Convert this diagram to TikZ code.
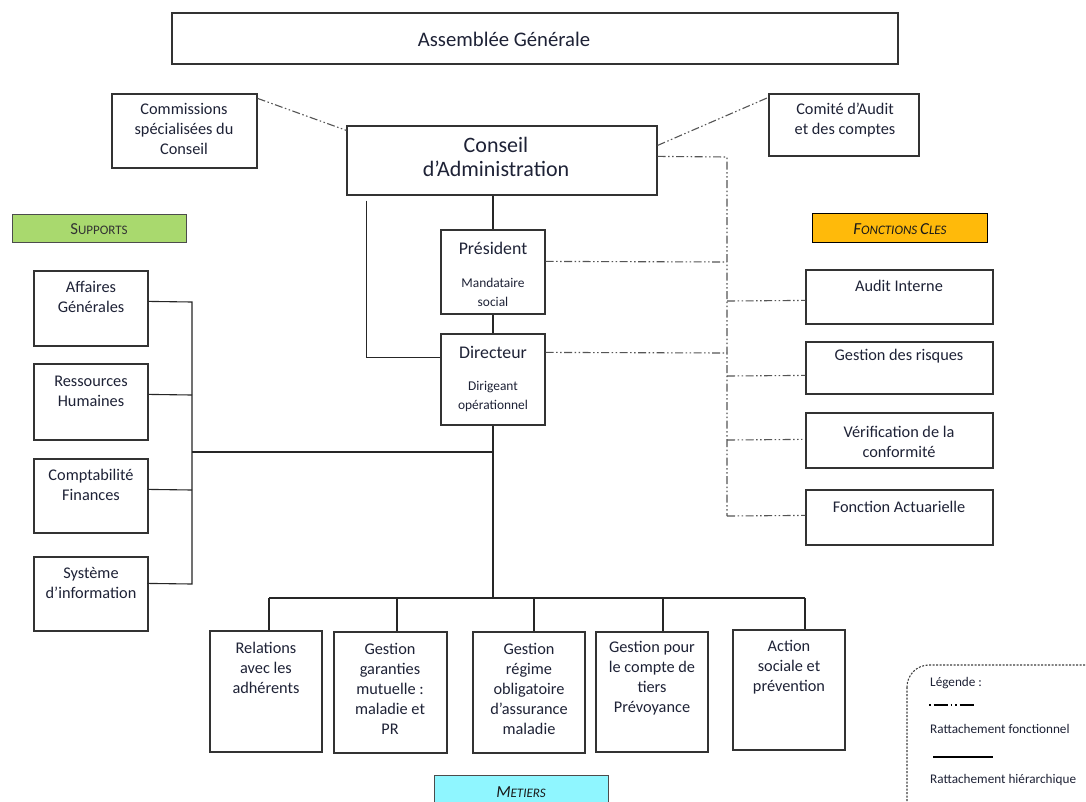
\documentclass[tikz,border=0pt]{standalone}
\usepackage{fontspec}
\setmainfont{Carlito}
\usetikzlibrary{fit,calc}
\definecolor{tcol}{HTML}{1E2236}
\definecolor{supg}{HTML}{A9D96E}
\definecolor{fcor}{HTML}{FFBA0A}
\definecolor{metc}{HTML}{8FF6FF}
\definecolor{bcol}{HTML}{333333}
\definecolor{fcol}{HTML}{555555}
\newcommand{\bigC}{\fontsize{16.8}{18}\selectfont}
\newcommand{\smC}{\fontsize{13}{18}\selectfont}
\begin{document}
\begin{tikzpicture}[x=1pt,y=-1pt,
  box/.style={draw=bcol, line width=1.2pt, inner sep=0pt},
  txt/.style={align=center, text=tcol, inner sep=0pt, font=\fontsize{16.3}{20}\selectfont},
  small/.style={align=center, text=tcol, inner sep=0pt, font=\fontsize{13.4}{19}\selectfont},
  leg/.style={anchor=west, text=tcol, inner sep=0pt, font=\fontsize{13.2}{15}\selectfont},
  hl/.style={draw=black!85, line width=1.1pt},
  fl/.style={draw=fcol, line width=1.1pt, dash pattern=on 8pt off 2.5pt on 1.5pt off 2.5pt on 1.5pt off 2.5pt}]
\useasboundingbox (0,0) rectangle (1086,801);
\clip (0,0) rectangle (1086,801);
\fill[white] (0,0) rectangle (1086,801);

% top
\node[box, fit={(172,13) (898,64)}] (ag) {};
\node[txt, font=\fontsize{20.7}{24}\selectfont] (agt) at (504,39) {Assemblée Générale};
\node[box, fit={(112,94) (257,168)}] (com) {};
\node[txt] (comt) at (184,129) {Commissions\\spécialisées du\\Conseil};
\node[box, fit={(769,94) (919,156)}] (cac) {};
\node[txt] (cact) at (845,120) {Comité d’Audit\\et des comptes};
\node[box, fit={(347,126) (657,195)}] (ca) {};
\node[txt, font=\fontsize{22}{24}\selectfont] (cat) at (496,157) {Conseil\\d’Administration};

% labels
\node[box, draw=black!70, line width=1pt, fill=supg, fit={(12,214) (186,242)}] (sup) {};
\node[text=black!80, inner sep=0pt] (supt) at (99,229) {{\bigC S}{\smC UPPORTS}};
\node[box, draw=black, line width=1pt, fill=fcor, fit={(812,213) (987,242)}] (fc) {};
\node[text=black!90, inner sep=0pt] (fct) at (900,229) {\itshape{\bigC F}{\smC ONCTIONS }{\bigC C}{\smC LES}};
\node[box, draw=black!70, line width=1pt, fill=metc, fit={(434,775) (608,812)}] (met) {};
\node[text=black!90, inner sep=0pt] (mett) at (521,792) {\itshape{\bigC M}{\smC ETIERS}};

% president / directeur
\node[box, fit={(441,230) (545,314)}] (pres) {};
\node[txt, font=\fontsize{17.8}{20}\selectfont] (prest) at (493,248) {Président};
\node[small] (presm) at (493,292) {Mandataire\\social};
\node[box, fit={(441,334) (545,425)}] (dir) {};
\node[txt, font=\fontsize{17.8}{20}\selectfont] (dirt) at (493,352) {Directeur};
\node[small] (dirm) at (493,396) {Dirigeant\\opérationnel};

% fonctions cles
\node[box, fit={(806,270) (993,324)}] (ai) {};
\node[txt] (ait) at (899,286) {Audit Interne};
\node[box, fit={(806,342) (993,394)}] (gr) {};
\node[txt] (grt) at (899,356) {Gestion des risques};
\node[box, fit={(806,413) (993,468)}] (vc) {};
\node[txt] (vct) at (899,442) {Vérification de la\\conformité};
\node[box, fit={(806,490) (993,545)}] (fa) {};
\node[txt] (fat) at (899,507) {Fonction Actuarielle};

% supports
\node[box, fit={(34,271) (148,346)}] (af) {};
\node[txt] (aft) at (91,297) {Affaires\\Générales};
\node[box, fit={(34,364) (148,440)}] (rh) {};
\node[txt] (rht) at (91,391) {Ressources\\Humaines};
\node[box, fit={(34,459) (148,533)}] (cf) {};
\node[txt] (cft) at (91,485) {Comptabilité\\Finances};
\node[box, fit={(34,557) (148,631)}] (si) {};
\node[txt] (sit) at (91,583) {Système\\d’information};

% metiers
\node[box, fit={(210,631) (322,752)}] (m1) {};
\node[txt] (m1t) at (266,668) {Relations\\avec les\\adhérents};
\node[box, fit={(334,632) (447,753)}] (m2) {};
\node[txt] (m2t) at (390,689) {Gestion\\garanties\\mutuelle :\\maladie et\\PR};
\node[box, fit={(473,632) (585,753)}] (m3) {};
\node[txt] (m3t) at (529,689) {Gestion\\régime\\obligatoire\\d’assurance\\maladie};
\node[box, fit={(596,632) (708,752)}] (m4) {};
\node[txt] (m4t) at (652,678) {Gestion pour\\le compte de\\tiers\\Prévoyance};
\node[box, fit={(733,630) (845,750)}] (m5) {};
\node[txt] (m5t) at (789,667) {Action\\sociale et\\prévention};

% functional links
\draw[fl] ($(com.north east)+(0,5)$) -- ($(ca.north west)+(0,5)$);
\draw[fl] ($(ca.north east)+(0,20)$) -- ($(cac.north west)+(0,4)$);
\coordinate (fbt) at (727,157);
\coordinate (fbb) at (727,516);
\draw[fl] ($(ca.north east)+(0,31)$) -- (fbt) -- (fbb);
\draw[fl] ($(pres.north east)+(0,32)$) -- (fbt |- 0,262);
\draw[fl] ($(dir.north east)+(0,19)$) -- (fbt |- 0,353);
\draw[fl] (fbt |- 0,301) -- ($(ai.north west)+(0,31)$);
\draw[fl] (fbt |- 0,376) -- ($(gr.north west)+(0,34)$);
\draw[fl] (fbt |- 0,440) -- ($(vc.north west)+(-3,27)$);
\draw[fl] (fbt |- 0,516) -- ($(fa.north west)+(0,26)$);

% hierarchical links
\draw[hl] (pres.north |- ca.south) -- (pres.north);
\draw[hl] (pres.south) -- (dir.north);
\draw[hl] ($(ca.south west)+(20,5)$) |- ($(dir.north west)+(0,24)$);
\coordinate (mb) at (493,598);
\draw[hl] (dir.south) -- (mb);
\coordinate (sbt) at (192,302);
\coordinate (sbb) at (192,584);
\draw[hl] ($(af.north east)+(0,31)$) -- (sbt) -- (sbb) -- ($(si.north west)+(114,27)$);
\draw[hl] ($(rh.north east)+(0,31)$) -- (sbt |- 0,395);
\draw[hl] ($(cf.north east)+(0,31)$) -- (sbt |- 0,490);
\draw[hl] (sbt |- 0,452) -- (dir.south |- 0,452);
\coordinate (d1) at (269,598);
\coordinate (d2) at (397,598);
\coordinate (d3) at (534,598);
\coordinate (d4) at (663,598);
\coordinate (d5) at (805,598);
\draw[hl] (d1) -- (d5);
\draw[hl] (d1) -- (d1 |- m1.north);
\draw[hl] (d2) -- (d2 |- m2.north);
\draw[hl] (d3) -- (d3 |- m3.north);
\draw[hl] (d4) -- (d4 |- m4.north);
\draw[hl] (d5) -- (d5 |- m5.north);

% legend
\draw[draw=black!75, line width=1.1pt, dash pattern=on 2pt off 1.5pt, rounded corners=22pt] (907,665) rectangle (1110,830);
\node[leg] (lgt) at (930,683) {Légende :};
\coordinate (l1a) at (929,705);
\coordinate (l1b) at (993,705);
\draw[line width=1.4pt, draw=black, dash pattern=on 1.5pt off 3pt on 14pt off 3pt on 1.5pt off 3pt on 1.5pt off 3pt on 14pt off 100pt] (l1a) -- (l1b);
\node[leg] (lft) at (930,729) {Rattachement fonctionnel};
\coordinate (l2a) at (933,757);
\coordinate (l2b) at (993,757);
\draw[line width=1.4pt, draw=black] (l2a) -- (l2b);
\node[leg] (lht) at (930,780) {Rattachement hiérarchique};
\end{tikzpicture}
\end{document}
